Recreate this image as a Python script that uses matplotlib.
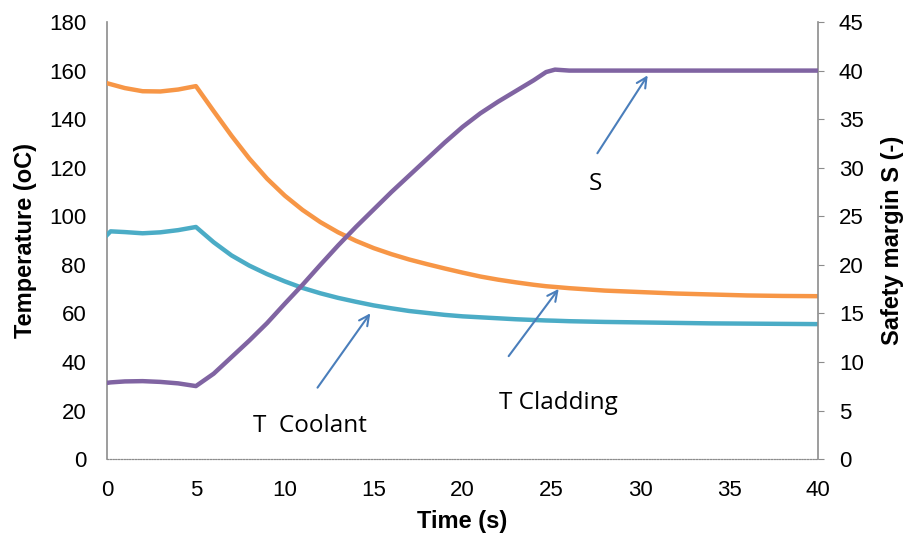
import numpy as np
import matplotlib.pyplot as plt

plt.rcParams['font.family'] = ['Liberation Sans', 'DejaVu Sans']

# Tempo (s)
time = [0, 0.2, 1, 2, 3, 4, 5, 6, 7, 8, 9, 10, 11, 12, 13, 14, 15, 16, 17, 18, 19,
        20, 21, 22, 23, 24, 24.7, 25.2, 26, 28, 30, 32, 34, 36, 38, 40]

# Temperatura do revestimento (oC)
t_cladding = [154.8, 154.4, 152.8, 151.5, 151.4, 152.2, 153.6, 143.3, 133.2, 123.8, 115.5,
              108.5, 102.6, 97.6, 93.4, 89.9, 86.9, 84.4, 82.2, 80.3, 78.5,
              76.8, 75.2, 73.9, 72.8, 71.8, 71.2, 70.9, 70.4, 69.4, 68.8,
              68.2, 67.8, 67.4, 67.2, 67.1]

# Temperatura do refrigerante (oC)
t_coolant = [92.3, 93.8, 93.5, 93, 93.4, 94.3, 95.6, 89.3, 83.9, 79.7, 76.2,
             73.2, 70.5, 68.3, 66.4, 64.8, 63.3, 62.1, 61, 60.2, 59.4,
             58.8, 58.4, 58, 57.6, 57.3, 57.1, 57, 56.8, 56.5, 56.3,
             56.1, 55.9, 55.8, 55.7, 55.6]

# Margem de segurança S (-)
safety = [7.85, 7.9, 8.0, 8.03, 7.95, 7.8, 7.52, 8.8, 10.5, 12.2, 14.0,
          16.0, 17.95, 20.0, 22.0, 23.9, 25.7, 27.5, 29.2, 30.9, 32.6,
          34.2, 35.6, 36.8, 37.9, 39.0, 39.85, 40.1, 40, 40, 40,
          40, 40, 40, 40, 40]

fig = plt.figure(figsize=(9.11, 5.37), dpi=100)
ax = fig.add_axes([0.1175, 0.145, 0.7805, 0.814])
ax2 = ax.twinx()

ax.plot(time, t_cladding, color='#F79646', lw=3.2, zorder=3, solid_joinstyle='round')
ax.plot(time, t_coolant, color='#4BACC6', lw=3.2, zorder=3, solid_joinstyle='round')
ax2.plot(time, safety, color='#8064A2', lw=3.2, zorder=3, solid_joinstyle='round')

ax.set_xlim(0, 40)
ax.set_ylim(0, 180)
ax2.set_ylim(0, 45)
ax.set_xticks(np.arange(0, 41, 5))
ax.set_yticks(np.arange(0, 181, 20))
ax2.set_yticks(np.arange(0, 46, 5))

for a in (ax, ax2):
    a.spines['top'].set_visible(False)
    a.spines['left'].set_color('#8c8c8c')
    a.spines['right'].set_color('#8c8c8c')
    a.spines['bottom'].set_color('#8c8c8c')
    a.spines['bottom'].set_linestyle((0, (1, 1.5)))
    a.spines['left'].set_linewidth(1.2)
    a.spines['right'].set_linewidth(1.2)
ax.spines['right'].set_visible(False)
ax2.spines['left'].set_visible(False)

ax.tick_params(axis='y', length=0, labelsize=16, pad=15)
ax.tick_params(axis='x', length=0, labelsize=16, pad=15)
ax2.tick_params(axis='y', length=4, color='#8c8c8c', labelsize=16, pad=11)

ax.set_xlabel('Time (s)', fontsize=17, fontweight='bold')
ax.set_ylabel('Temperature (oC)', fontsize=17, fontweight='bold')
ax2.set_ylabel('Safety margin S (-)', fontsize=17, fontweight='bold')
ax.xaxis.set_label_coords(0.5, -0.117)
ax.yaxis.set_label_coords(-0.115, 0.5)
ax2.yaxis.set_label_coords(1.104, 0.5)
ax.yaxis.label.set_va('center')
ax2.yaxis.label.set_va('center')

arrow = dict(arrowstyle='->', color='#4A7EBB', lw=1.5, mutation_scale=18)
afont = dict(fontsize=17.5, family=['Open Sans', 'DejaVu Sans'])
ax.annotate('', xy=(30.5, 159), xytext=(27.5, 125), arrowprops=arrow)
ax.text(27.45, 110.8, 'S', ha='center', va='baseline', **afont)
ax.annotate('', xy=(14.9, 61), xytext=(11.75, 28.5), arrowprops=arrow)
ax.text(11.42, 11.1, 'T  Coolant', ha='center', va='baseline', **afont)
ax.annotate('', xy=(25.5, 71), xytext=(22.5, 41.5), arrowprops=arrow)
ax.text(25.4, 20.6, 'T Cladding', ha='center', va='baseline', **afont)

fig.savefig('out.png', dpi=100)
